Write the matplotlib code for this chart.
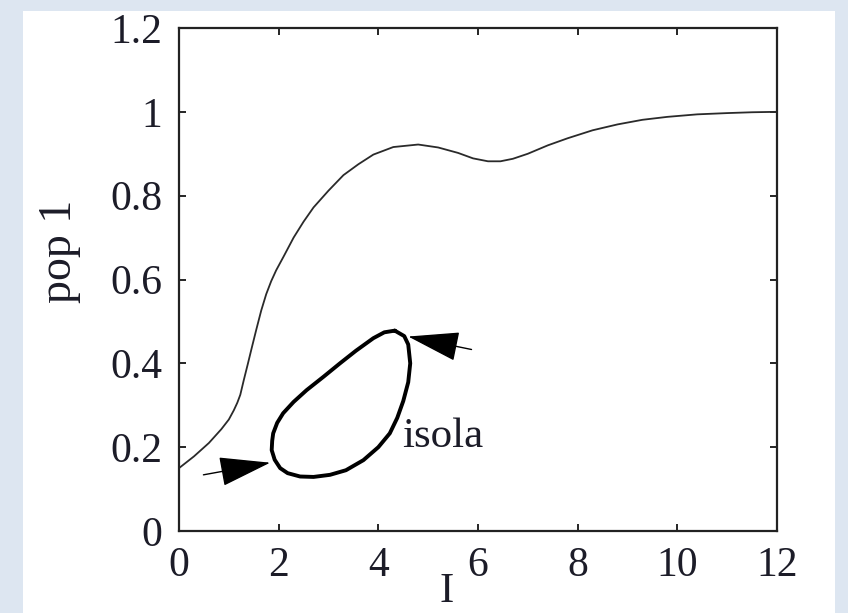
import matplotlib
matplotlib.use("Agg")
import matplotlib.pyplot as plt
from matplotlib.patches import Rectangle

# ---- data ----
main_I = [0, 0.3, 0.6, 0.85, 1.0, 1.1, 1.17, 1.23, 1.3, 1.38, 1.46, 1.55,
          1.65, 1.75, 1.85, 1.95, 2.1, 2.3, 2.5, 2.7, 3.0, 3.3, 3.6, 3.9,
          4.3, 4.8, 5.2, 5.6, 5.9, 6.2, 6.45, 6.7, 7.0, 7.4, 7.8, 8.3, 8.8,
          9.3, 9.8, 10.4, 11.0, 11.5, 12]
main_pop = [0.150, 0.178, 0.210, 0.243, 0.266, 0.288, 0.306, 0.325, 0.360,
            0.398, 0.437, 0.480, 0.526, 0.565, 0.596, 0.622, 0.655, 0.700,
            0.738, 0.772, 0.812, 0.849, 0.875, 0.898, 0.916, 0.922, 0.915,
            0.902, 0.889, 0.882, 0.882, 0.888, 0.900, 0.920, 0.937, 0.956,
            0.970, 0.981, 0.988, 0.994, 0.997, 0.999, 1.0]

isola_I = [4.33, 4.52, 4.60, 4.64, 4.60, 4.50, 4.38, 4.23, 4.00, 3.70, 3.35,
           3.03, 2.70, 2.43, 2.18, 2.03, 1.92, 1.86, 1.87, 1.89, 1.97, 2.09,
           2.30, 2.56, 2.90, 3.23, 3.55, 3.90, 4.12, 4.33]
isola_pop = [0.478, 0.465, 0.445, 0.400, 0.355, 0.310, 0.270, 0.233, 0.200,
             0.169, 0.145, 0.134, 0.129, 0.130, 0.138, 0.150, 0.170, 0.193,
             0.215, 0.233, 0.258, 0.281, 0.308, 0.336, 0.368, 0.400, 0.430,
             0.460, 0.474, 0.478]

arrow_left = {"tail": (0.49, 0.134), "tip": (1.83, 0.163)}
arrow_right = {"tail": (5.87, 0.433), "tip": (4.60, 0.464)}

x_ticks = [0, 2, 4, 6, 8, 10, 12]
y_ticks = [0, 0.2, 0.4, 0.6, 0.8, 1.0, 1.2]
y_tick_labels = ["0", "0.2", "0.4", "0.6", "0.8", "1", "1.2"]

# ---- figure ----
plt.rcParams['font.family'] = ['Liberation Serif', 'DejaVu Serif']
TXT = '#1c1c28'

fig = plt.figure(figsize=(8.48, 6.13), dpi=100)
fig.patch.set_facecolor('#dde6f1')
panel = Rectangle((23 / 848, 0), (835 - 23) / 848, (613 - 11) / 613,
                  transform=fig.transFigure, facecolor='white',
                  edgecolor='none', zorder=-10)
fig.patches.append(panel)

ax = fig.add_axes([179 / 848, (613 - 531) / 613, (777 - 179) / 848, (531 - 28) / 613])
ax.set_zorder(5)
ax.set_facecolor('white')
ax.set_xlim(0, 12)
ax.set_ylim(0, 1.2)

ax.plot(main_I, main_pop, color='#2a2a2a', lw=1.3, solid_joinstyle='round')
ax.plot(isola_I, isola_pop, color='black', lw=2.8, solid_joinstyle='round',
        solid_capstyle='round')

for arr in (arrow_left, arrow_right):
    ax.annotate('', xy=arr["tip"], xytext=arr["tail"],
                arrowprops=dict(arrowstyle='-|>,head_length=33,head_width=9.5',
                                mutation_scale=1, color='black', lw=1.0,
                                shrinkA=0, shrinkB=0))

ax.text(4.47, 0.201, 'isola', fontsize=31, color=TXT, ha='left', va='baseline')

ax.set_xticks(x_ticks)
ax.set_xticklabels([str(t) for t in x_ticks])
ax.set_yticks(y_ticks)
ax.set_yticklabels(y_tick_labels)
ax.tick_params(direction='in', length=5, width=1.2, top=True, right=True,
               labelsize=30, colors='black', labelcolor=TXT)
ax.tick_params(axis='x', pad=11)
ax.tick_params(axis='y', pad=12)
for s in ax.spines.values():
    s.set_linewidth(1.6)
    s.set_color('#222222')

fig.text(447 / 848, 1 - 592 / 613, 'I', fontsize=31, color=TXT,
         ha='center', va='center', zorder=6)
fig.text(60 / 848, 1 - 251 / 613, 'pop 1', fontsize=33, color=TXT,
         ha='center', va='center', rotation=90, zorder=6)

fig.savefig('out.png', dpi=100, facecolor=fig.get_facecolor())
